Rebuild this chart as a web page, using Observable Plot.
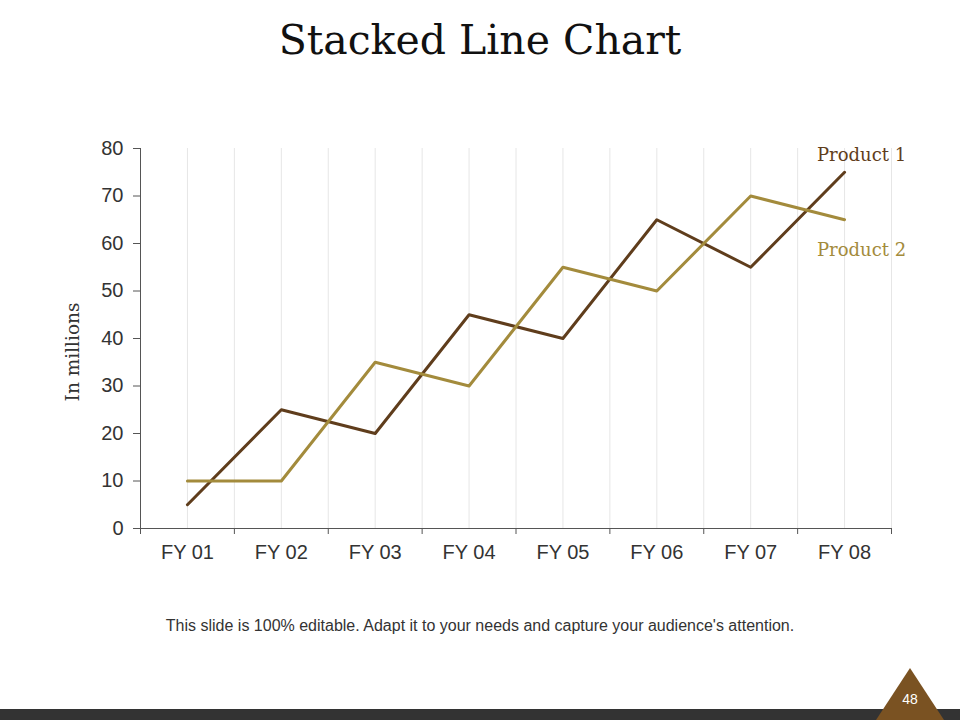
<!DOCTYPE html>
<html><head><meta charset="utf-8">
<script src="https://cdn.jsdelivr.net/npm/d3@7"></script>
<script src="https://cdn.jsdelivr.net/npm/@observablehq/plot@0.6"></script>
<style>
body{margin:0;width:960px;height:720px;position:relative;background:#fff;overflow:hidden;font-family:"Liberation Sans",Arial,sans-serif}
#title{position:absolute;top:12px;left:0;width:960px;text-align:center;font-family:"DejaVu Serif",Georgia,serif;font-size:41px;color:#111;line-height:56px}
#chart{position:absolute;top:130px;left:0}
#ylabel{position:absolute;left:72px;top:352px;transform:translate(-50%,-50%) rotate(-90deg);font-family:"DejaVu Serif",Georgia,serif;font-size:18.5px;color:#333;white-space:nowrap}
#note{position:absolute;top:617px;left:0;width:960px;text-align:center;font-size:16px;color:#333}
#bar{position:absolute;left:0;top:709px;width:960px;height:11px;background:#333}
#tri{position:absolute;left:876px;top:668px;width:0;height:0;border-left:34px solid transparent;border-right:34px solid transparent;border-bottom:52px solid #7a5222}
#page{position:absolute;left:876px;top:691px;width:68px;text-align:center;color:#fff;font-size:14px}
</style></head>
<body>
<div id="title">Stacked Line Chart</div>
<div id="chart"></div>
<div id="ylabel">In millions</div>
<div id="note">This slide is 100% editable. Adapt it to your needs and capture your audience's attention.</div>
<div id="bar"></div>
<div id="tri"></div>
<div id="page">48</div>
<script>
const categories = ["FY 01","FY 02","FY 03","FY 04","FY 05","FY 06","FY 07","FY 08"];
const product1 = [5,25,20,45,40,65,55,75];
const product2 = [10,10,35,30,55,50,70,65];
const seriesNames = ["Product 1","Product 2"];
const seriesColors = ["#5f3d1c","#a38b3c"];
const yTicks = [0,10,20,30,40,50,60,70,80];

const data = categories.flatMap((c,i)=>[
  {series:seriesNames[0], i, cat:c, value:product1[i]},
  {series:seriesNames[1], i, cat:c, value:product2[i]}
]);
const last = categories.length-1;
const boundaries = d3.range(-0.5, categories.length, 1);
const centers = categories.map((_,i)=>i);
const grid = boundaries.slice(1).concat(centers);

const chart = Plot.plot({
  width:960, height:450,
  marginLeft:140, marginRight:69, marginTop:18, marginBottom:52,
  x:{type:"linear", domain:[-0.5, last+0.5], axis:null},
  y:{domain:[0,80], axis:null},
  color:{domain:seriesNames, range:seriesColors},
  style:{fontFamily:"'Liberation Sans', Arial, sans-serif", fontSize:"20px", color:"#333", background:"transparent"},
  marks:[
    Plot.ruleX(grid, {stroke:"#e6e6e6", strokeWidth:1}),
    Plot.axisY({ticks:yTicks, tickSize:7, tickPadding:10, fontSize:20, stroke:"#555", fill:"#333", label:null}),
    Plot.axisX({ticks:boundaries, tickSize:6, tickFormat:()=>"", stroke:"#555", label:null}),
    Plot.axisX({ticks:centers, tickSize:0, tickPadding:16, fontSize:20, fill:"#333", tickFormat:i=>categories[i], label:null}),
    Plot.ruleY([0], {stroke:"#555"}),
    Plot.ruleX([-0.5], {stroke:"#555"}),
    Plot.line(data, {x:"i", y:"value", z:"series", stroke:"series", strokeWidth:3}),
    Plot.text(data.filter(d=>d.i===last && d.series===seriesNames[0]), {x:"i", y:"value", text:"series", fill:"series", dx:17, dy:-17, fontSize:18, fontFamily:"'DejaVu Serif', Georgia, serif"}),
    Plot.text(data.filter(d=>d.i===last && d.series===seriesNames[1]), {x:"i", y:"value", text:"series", fill:"series", dx:17, dy:30, fontSize:18, fontFamily:"'DejaVu Serif', Georgia, serif"})
  ]
});
document.getElementById("chart").appendChild(chart);
</script>
</body></html>
